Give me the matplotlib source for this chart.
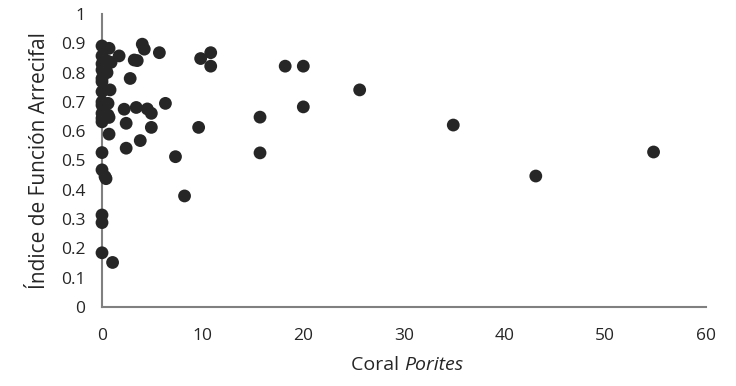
import matplotlib
matplotlib.use("Agg")
import matplotlib.pyplot as plt

# Data (Coral Porites cover vs Reef Function Index)
porites = [0, 0, 0, 0, 0, 0, 0, 0, 0, 0, 0, 0, 0, 0, 0, 0, 0,
           0.7, 0.5, 0.4, 0.9, 0.5, 0.8, 0.6, 0.6, 0.7, 0.7, 0.3, 0.4, 1.05,
           1.7, 4.0, 4.2, 5.7, 3.2, 3.5, 10.8, 9.8, 10.8, 2.8, 6.3, 2.2, 3.4,
           4.5, 4.9, 2.4, 4.9, 9.6, 3.8, 2.4, 7.3, 8.2,
           18.2, 20.0, 20.0, 25.6, 15.7, 15.7, 34.9, 43.1, 54.8]
ifa = [0.891, 0.857, 0.830, 0.809, 0.780, 0.769, 0.735, 0.700, 0.689, 0.661,
       0.644, 0.632, 0.527, 0.468, 0.314, 0.288, 0.185,
       0.883, 0.840, 0.805, 0.835, 0.800, 0.741, 0.695, 0.655, 0.647, 0.590,
       0.445, 0.438, 0.152,
       0.857, 0.897, 0.880, 0.868, 0.843, 0.841, 0.868, 0.848, 0.822, 0.780,
       0.695, 0.675, 0.681, 0.676, 0.661, 0.627, 0.613, 0.613, 0.568, 0.542,
       0.513, 0.379,
       0.822, 0.822, 0.683, 0.741, 0.648, 0.526, 0.621, 0.447, 0.529]

xticks = [0, 10, 20, 30, 40, 50, 60]
yticks = [0, 0.1, 0.2, 0.3, 0.4, 0.5, 0.6, 0.7, 0.8, 0.9, 1]
ytick_labels = ["0", "0.1", "0.2", "0.3", "0.4", "0.5", "0.6", "0.7", "0.8", "0.9", "1"]

plt.rcParams['font.family'] = ['Open Sans', 'DejaVu Sans']

fig = plt.figure(figsize=(7.36, 3.86), dpi=100)
ax = fig.add_axes([0.1386, 0.2047, 0.8205, 0.759])

ax.scatter(porites, ifa, s=85, color="#262626", edgecolors="none", zorder=3, clip_on=False)

ax.set_xlim(0, 60)
ax.set_ylim(0, 1)
ax.set_xticks(xticks)
ax.set_xticklabels([str(t) for t in xticks])
ax.set_yticks(yticks)
ax.set_yticklabels(ytick_labels)

for s in ["top", "right"]:
    ax.spines[s].set_visible(False)
for s in ["left", "bottom"]:
    ax.spines[s].set_color("#808080")
    ax.spines[s].set_linewidth(1.5)

ax.tick_params(axis="both", length=0, labelsize=12.5, colors="#262626")
ax.tick_params(axis="x", pad=15)
ax.tick_params(axis="y", pad=12)

ax.set_ylabel("Índice de Función Arrecifal", fontsize=15, color="#262626", labelpad=8)
xc = 0.5 * (0.1386 + 0.959)
fig.text(xc, 0.055, "Coral ", fontsize=14, color="#262626", ha="right", va="center")
fig.text(xc, 0.055, "Porites", fontsize=14, color="#262626", ha="left", va="center", style="italic")

fig.savefig("out.png", dpi=100)
